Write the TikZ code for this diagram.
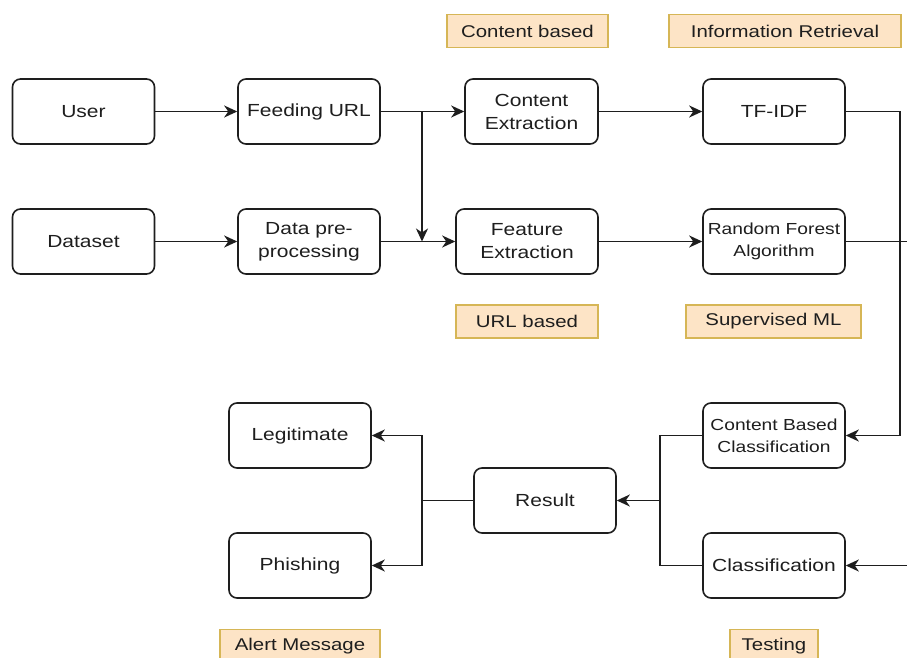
\documentclass[tikz,border=0pt]{standalone}
\usepackage{fontspec}
\setmainfont[FakeStretch=1.2]{Liberation Sans}
\usetikzlibrary{arrows.meta}
\definecolor{tagfill}{RGB}{253,228,198}
\definecolor{tagline}{RGB}{214,182,86}
\definecolor{inkc}{RGB}{30,30,30}
\tikzset{
  box/.style={draw=inkc, line width=1.6pt, rounded corners=8pt, fill=white,
    minimum width=142pt, minimum height=65pt, inner sep=2pt, align=center,
    text=inkc, font=\fontsize{17.5}{23}\selectfont},
  smallbox/.style={box, font=\fontsize{16}{22}\selectfont},
  tag/.style={draw=tagline, line width=1.2pt, fill=tagfill, minimum height=33pt,
    inner sep=2pt, text=inkc, font=\fontsize{17}{20}\selectfont},
  wire/.style={draw=inkc, line width=1.6pt},
  flow/.style={wire, -{Stealth[length=13pt,width=12pt,inset=4pt]}}
}
\begin{document}
\begin{tikzpicture}[x=1pt,y=-1pt]
\clip (0,0) rectangle (907,658);
\fill[white] (0,0) rectangle (907,658);

% upper rows
\node[box] (user)  at (83.5,111.5) {User};
\node[box] (feed)  at (309,111.5)  {Feeding URL};
\node[box, minimum width=133pt] (cext) at (531.5,111.5) {Content\\Extraction};
\node[box] (tfidf) at (774,111.5)  {TF-IDF};
\node[box] (data)  at (83.5,241.5) {Dataset};
\node[box] (prep)  at (309,241.5)  {Data pre-\\processing};
\node[box] (fext)  at (527,241.5)  {Feature\\Extraction};
\node[smallbox] (rf) at (774,241.5) {Random Forest\\Algorithm};

% lower rows
\node[smallbox] (cbc) at (774,435.5) {Content Based\\Classification};
\node[box] (cls)    at (774,565.5) {Classification};
\node[box] (result) at (545,500.5) {Result};
\node[box] (legit)  at (300,435.5) {Legitimate};
\node[box] (phish)  at (300,565.5) {Phishing};

% tags
\node[tag, minimum width=161pt] (tcont) at (527.5,31)  {Content based};
\node[tag, minimum width=232pt] (tinfo) at (785,31)    {Information Retrieval};
\node[tag, minimum width=142pt] (turl)  at (527,321.5) {URL based};
\node[tag, minimum width=175pt] (tsup)  at (773.5,321.5) {Supervised ML};
\node[tag, minimum width=160pt] (talert) at (300,646)  {Alert Message};
\node[tag, minimum width=88pt]  (ttest) at (774,646)   {Testing};

% junctions and bends
\coordinate (jtop) at (422,111.5);
\coordinate (jbot) at (422,241.5);
\coordinate (rbend) at (900,111.5);
\coordinate (rout) at (920,241.5);
\coordinate (jcls) at (660,500.5);
\coordinate (jres) at (422,500.5);

% connectors
\draw[flow] (user.east) -- (feed.west);
\draw[flow] (feed.east) -- (cext.west);
\draw[flow] (jtop) -- (jbot);
\draw[flow] (data.east) -- (prep.west);
\draw[flow] (prep.east) -- (fext.west);
\draw[flow] (cext.east) -- (tfidf.west);
\draw[flow] (fext.east) -- (rf.west);
\draw[flow] (tfidf.east) -- (rbend) |- (cbc.east);
\draw[flow] (rf.east) -- (rout) |- (cls.east);
\draw[wire] (cbc.west) -| (jcls) |- (cls.west);
\draw[flow] (jcls) -- (result.east);
\draw[wire] (result.west) -- (jres);
\draw[flow] (jres) |- (legit.east);
\draw[flow] (jres) |- (phish.east);
\end{tikzpicture}
\end{document}
